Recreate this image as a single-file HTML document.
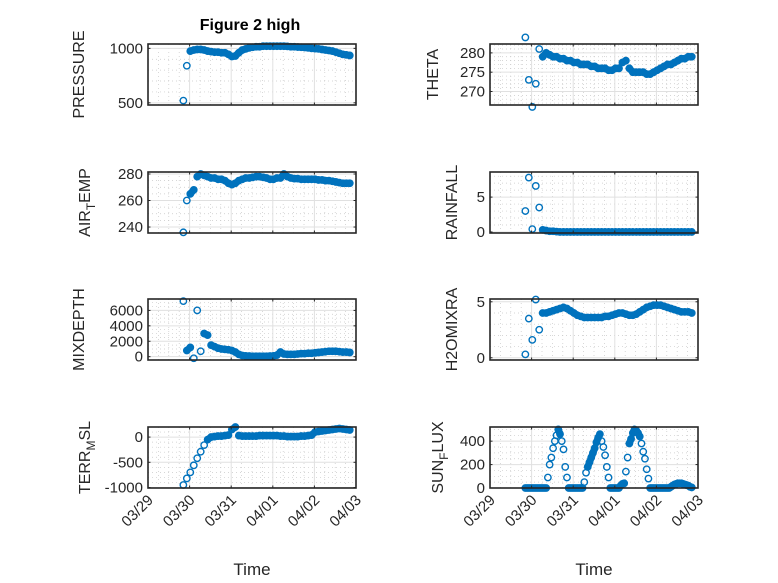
<!DOCTYPE html>
<html><head><meta charset="utf-8">
<style>
html,body{margin:0;padding:0;background:#fff;}
svg{display:block;font-family:"Liberation Sans","DejaVu Sans",sans-serif;}
</style></head>
<body>
<svg id="fig" width="778" height="583" viewBox="0 0 778 583" xmlns="http://www.w3.org/2000/svg">
<rect x="0" y="0" width="778" height="583" fill="#fff"/>
<text x="250" y="30" text-anchor="middle" font-size="16" font-weight="bold" fill="#000">Figure 2 high</text>
</svg>
<script>
// time grids (days since 03/29 00:00)
const tickLabels = ["03/29","03/30","03/31","04/01","04/02","04/03"];
const times2h = Array.from({length:49},(_, i)=>0.85+i/12);
const timesSun = Array.from({length:97},(_, i)=>0.85+i/24);

const pressure = [520,840,975,985,990,990,985,975,970,965,965,960,960,945,925,930,960,985,995,1005,1010,1015,1015,1020,1020,1020,1020,1020,1020,1020,1018,1015,1015,1012,1010,1008,1005,1000,998,995,990,985,980,975,965,955,945,940,935];
const theta = [284,273,266,272,281,279,280,279.5,279,279,278.5,278.5,278,278,277.5,277.5,277,277,277,276.5,276.5,276,276,276,275.5,275.5,276,276,277.5,278,276,275,275,275,275,274.5,274.5,275,275.5,276,276.5,277,277,277.5,278,278.5,278.5,279,279];
const airTemp = [236,260,265,268,278,280,279,278,277,277,276,276,275,273,272,273,275,276,277,277,277.5,278,278,277.5,277,276,276,277,277,280,278,277,276.5,276.5,276,276,276,276,276,275.5,275.5,275,275,274.5,274,273.5,273,273,273];
const rainfall = [3,7.8,0.4,6.6,3.5,0.3,0.2,0.1,0.1,0.05,0,0,0,0,0,0,0,0,0,0,0,0,0,0,0,0,0,0,0,0,0,0,0,0,0,0,0,0,0,0,0,0,0,0,0,0,0,0,0];
const mixDepth = [7200,800,1200,-200,6000,700,3000,2800,1500,1300,1100,1000,950,900,800,600,300,150,100,80,60,50,50,50,60,80,100,200,600,350,300,300,300,350,400,400,450,450,500,550,600,650,700,700,700,650,600,600,550];
const h2oMix = [0.3,3.5,1.6,5.2,2.5,4.0,4.0,4.1,4.2,4.3,4.4,4.5,4.4,4.2,4.0,3.8,3.7,3.6,3.6,3.6,3.6,3.6,3.6,3.7,3.7,3.8,3.9,4.0,4.0,3.9,3.8,3.8,3.9,4.1,4.3,4.5,4.6,4.7,4.7,4.7,4.6,4.5,4.4,4.3,4.2,4.1,4.1,4.1,4.0];
const terrMsl = [-950,-820,-700,-560,-420,-290,-160,-50,0,10,20,20,30,40,150,200,30,20,20,20,20,20,30,30,30,30,30,30,20,20,10,10,10,10,20,20,30,40,100,110,120,130,140,150,160,170,160,150,140];
const sunFlux = [0,0,0,0,0,0,0,0,0,0,0,0,0,90,200,260,340,400,450,500,460,400,330,180,90,0,0,0,0,0,0,0,0,0,50,130,180,220,260,300,340,390,430,460,400,350,280,180,90,0,0,0,0,0,0,20,35,40,140,260,380,420,470,500,490,470,440,380,310,250,160,80,0,0,0,0,0,0,0,0,0,0,0,0,10,20,30,35,40,40,40,35,30,25,20,10,5];

const NS="http://www.w3.org/2000/svg";
const svg=document.getElementById('fig');
function mk(tag,attrs,parent){const e=document.createElementNS(NS,tag);for(const k in attrs)e.setAttribute(k,attrs[k]);(parent||svg).appendChild(e);return e;}

const panels=[
 {name:'pressure',x0:148,y0:44,lab:['PRESSURE'],lx:78,ylim:[480,1040],ticks:[500,1000],minor:100,t:times2h,v:pressure},
 {name:'theta',x0:490,y0:44,lab:['THETA'],lx:432,ylim:[266.5,282.3],ticks:[270,275,280],minor:1,t:times2h,v:theta},
 {name:'air-temp',x0:148,y0:172,lab:['AIR','T','EMP'],lx:84,ylim:[235.5,281.5],ticks:[240,260,280],minor:5,t:times2h,v:airTemp},
 {name:'rainfall',x0:490,y0:172,lab:['RAINFALL'],lx:451,ylim:[-0.15,8.6],ticks:[0,5],minor:1,t:times2h,v:rainfall},
 {name:'mixdepth',x0:148,y0:299,lab:['MIXDEPTH'],lx:78,ylim:[-430,7480],ticks:[0,2000,4000,6000],minor:500,t:times2h,v:mixDepth},
 {name:'h2omixra',x0:490,y0:299,lab:['H2OMIXRA'],lx:451,ylim:[-0.2,5.25],ticks:[0,5],minor:1,t:times2h,v:h2oMix},
 {name:'terr-msl',x0:148,y0:427,lab:['TERR','M','SL'],lx:84,ylim:[-1010,200],ticks:[-1000,-500,0],minor:100,t:times2h,v:terrMsl,bottom:true},
 {name:'sun-flux',x0:490,y0:427,lab:['SUN','F','LUX'],lx:437,ylim:[0,521],ticks:[0,200,400],minor:50,t:timesSun,v:sunFlux,bottom:true},
];
const W=208,H=61;
panels.forEach(p=>{
  const g=mk('g',{});
  
  
  const xs=d=>p.x0+d/5*W;
  const ys=v=>p.y0+H-(v-p.ylim[0])/(p.ylim[1]-p.ylim[0])*H;
  for(let d=0;d<=5.001;d+=0.25){ if(Math.abs(d-Math.round(d))<1e-6) continue;
    mk('line',{x1:xs(d),x2:xs(d),y1:p.y0,y2:p.y0+H,stroke:'#c8c8c8','stroke-width':0.7,'stroke-dasharray':'1 3'},g);}
  for(let v=Math.ceil(p.ylim[0]/p.minor)*p.minor;v<=p.ylim[1];v+=p.minor){ if(p.ticks.includes(v)) continue;
    mk('line',{x1:p.x0,x2:p.x0+W,y1:ys(v),y2:ys(v),stroke:'#c8c8c8','stroke-width':0.7,'stroke-dasharray':'1 3'},g);}
  for(let d=1;d<5;d++) mk('line',{x1:xs(d),x2:xs(d),y1:p.y0,y2:p.y0+H,stroke:'#e0e0e0','stroke-width':1},g);
  p.ticks.forEach(v=>mk('line',{x1:p.x0,x2:p.x0+W,y1:ys(v),y2:ys(v),stroke:'#e0e0e0','stroke-width':1},g));
  const dg=mk('g',{},g);
  
  
  for(let i=1;i<p.v.length;i++){
    const x1=xs(p.t[i-1]),y1=ys(p.v[i-1]),x2=xs(p.t[i]),y2=ys(p.v[i]);
    if(Math.hypot(x2-x1,y2-y1)<5.5){
      const s=mk('line',{x1:x1,y1:y1,x2:x2,y2:y2,stroke:'#0072BD','stroke-width':7,'stroke-linecap':'round'},dg);
      
      
    }
  }
  p.v.forEach((v,i)=>{
    const c=mk('circle',{cx:xs(p.t[i]),cy:ys(v),r:3.2,fill:'none',stroke:'#0072BD','stroke-width':1.4},dg);
    
    
  });
  mk('rect',{x:p.x0,y:p.y0,width:W,height:H,fill:'none',stroke:'#262626','stroke-width':1.6},g);
  for(let d=0;d<=5;d++){
    mk('line',{x1:xs(d),x2:xs(d),y1:p.y0+H,y2:p.y0+H-2.5,stroke:'#262626','stroke-width':1},g);
    mk('line',{x1:xs(d),x2:xs(d),y1:p.y0,y2:p.y0+2.5,stroke:'#262626','stroke-width':1},g);
  }
  p.ticks.forEach(v=>{
    mk('line',{x1:p.x0,x2:p.x0+2.5,y1:ys(v),y2:ys(v),stroke:'#262626','stroke-width':1},g);
    mk('line',{x1:p.x0+W,x2:p.x0+W-2.5,y1:ys(v),y2:ys(v),stroke:'#262626','stroke-width':1},g);
    const t=mk('text',{x:p.x0-5,y:ys(v)+5,'text-anchor':'end','font-size':15,fill:'#262626'},g);
    t.textContent=String(v);
    
    
  });
  const ly=p.y0+H/2;
  const yl=mk('text',{x:0,y:0,'text-anchor':'middle','font-size':16,fill:'#262626',transform:`translate(${p.lx+6},${ly}) rotate(-90)`},g);
  
  
  if(p.lab.length===1){ yl.textContent=p.lab[0]; }
  else {
    const a=mk('tspan',{},yl); a.textContent=p.lab[0];
    const b=mk('tspan',{dy:5,'font-size':12},yl); b.textContent=p.lab[1];
    const c=mk('tspan',{dy:-5},yl); c.textContent=p.lab[2];
  }
  if(p.bottom){
    tickLabels.forEach((s,d)=>{
      const t=mk('text',{x:0,y:0,'text-anchor':'end','font-size':15,fill:'#262626',transform:`translate(${xs(d)+6},${p.y0+H+13}) rotate(-45)`},g);
      t.textContent=s;
      
      
    });
    const xt=mk('text',{x:p.x0+W/2,y:575,'text-anchor':'middle','font-size':17,fill:'#262626'},g);
    xt.textContent='Time';
    
    
  }
});
</script>
</body></html>
